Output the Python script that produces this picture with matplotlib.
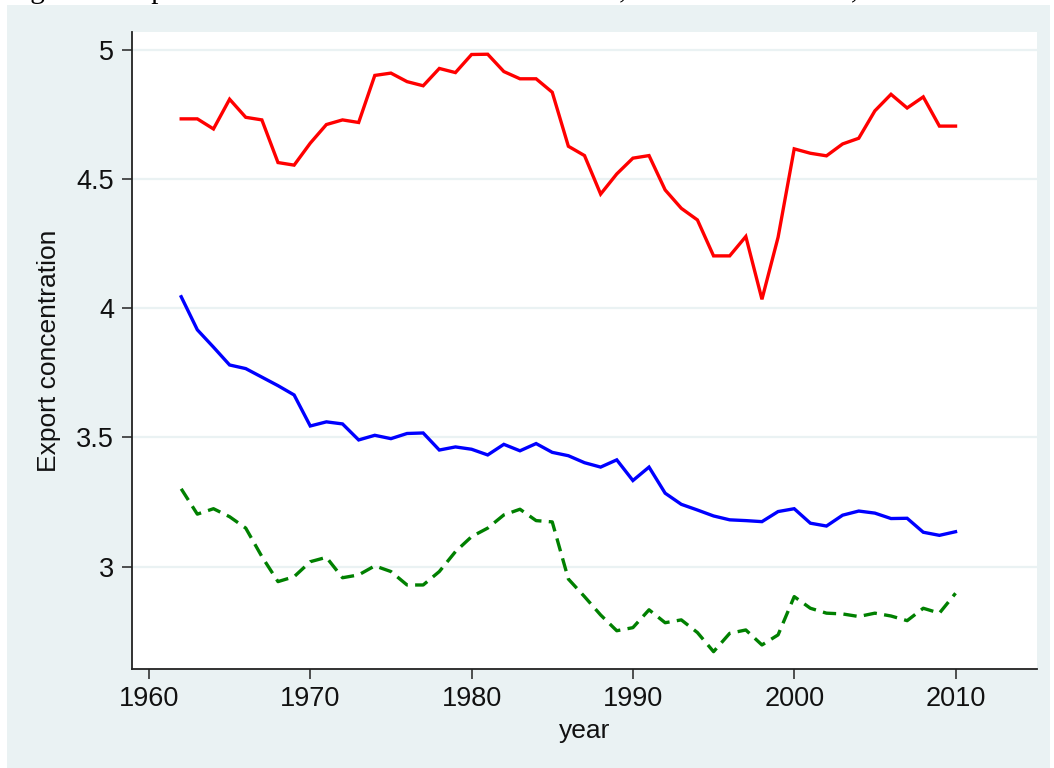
import matplotlib.pyplot as plt
from matplotlib.patches import Rectangle

# Export concentration by year, three series
years = list(range(1962, 2011))

red_series = [4.732, 4.732, 4.693, 4.808, 4.738, 4.728, 4.563, 4.553, 4.638, 4.710,
              4.728, 4.718, 4.900, 4.909, 4.876, 4.860, 4.927, 4.911, 4.981, 4.982,
              4.915, 4.887, 4.887, 4.835, 4.626, 4.590, 4.441, 4.519, 4.580, 4.590,
              4.457, 4.386, 4.341, 4.202, 4.202, 4.277, 4.034, 4.274, 4.616, 4.599,
              4.589, 4.635, 4.657, 4.763, 4.827, 4.774, 4.817, 4.704, 4.704]

blue_series = [4.044, 3.916, 3.849, 3.780, 3.766, 3.733, 3.700, 3.664, 3.544, 3.560,
               3.552, 3.490, 3.508, 3.495, 3.515, 3.517, 3.451, 3.463, 3.454, 3.432,
               3.473, 3.448, 3.476, 3.442, 3.429, 3.402, 3.385, 3.413, 3.333, 3.385,
               3.284, 3.241, 3.219, 3.196, 3.181, 3.178, 3.174, 3.213, 3.224, 3.168,
               3.157, 3.199, 3.215, 3.207, 3.186, 3.187, 3.133, 3.121, 3.135]

green_series = [3.301, 3.203, 3.224, 3.193, 3.149, 3.039, 2.942, 2.961, 3.019, 3.036,
                2.957, 2.968, 3.003, 2.981, 2.929, 2.929, 2.981, 3.058, 3.116, 3.149,
                3.200, 3.222, 3.178, 3.173, 2.952, 2.884, 2.813, 2.752, 2.764, 2.833,
                2.783, 2.794, 2.745, 2.671, 2.742, 2.755, 2.697, 2.736, 2.884, 2.839,
                2.820, 2.817, 2.807, 2.820, 2.809, 2.791, 2.839, 2.820, 2.897]

y_ticks = [3, 3.5, 4, 4.5, 5]
y_tick_labels = ["3", "3.5", "4", "4.5", "5"]
x_ticks = [1960, 1970, 1980, 1990, 2000, 2010]

caption = "Figure 3: Export concentration in three income areas, from 1962 to 2010, means"

BG = "#eaf2f3"

plt.rcParams['font.family'] = ['Liberation Sans', 'DejaVu Sans']

fig = plt.figure(figsize=(10.54, 7.68), dpi=100, facecolor="white")

# Stata-style outer panel (light blue-grey), slightly inset from the image edges
fig.patches.append(Rectangle((7 / 1054, 0), 1043 / 1054, 763 / 768,
                             transform=fig.transFigure, facecolor=BG,
                             edgecolor="none", zorder=-10))

# caption above the chart, mostly cut off by the image edge (as in the source)
fig.text(6 / 1054, 1 + 2 / 768, caption,
         family=['Liberation Serif', 'DejaVu Serif'], fontsize=21,
         va='baseline', ha='left', zorder=-5)

ax = fig.add_axes([132 / 1054, 1 - 669 / 768, (1037 - 132) / 1054, (669 - 32) / 768])
ax.set_facecolor("white")
ax.set_zorder(1)

for v in y_ticks:
    ax.axhline(v, color=BG, lw=1.6, zorder=1)

ax.plot(years, red_series, color="#ff0000", lw=2.4, zorder=3, solid_joinstyle="miter")
ax.plot(years, blue_series, color="#0000ff", lw=2.4, zorder=3, solid_joinstyle="miter")
ax.plot(years, green_series, color="#008000", lw=2.4, ls=(0, (4, 2.2)), zorder=3)

ax.set_xlim(1958.95, 2015.05)
ax.set_ylim(2.604, 5.068)

ax.set_yticks(y_ticks)
ax.set_yticklabels(y_tick_labels)
ax.set_xticks(x_ticks)

for side in ["top", "right"]:
    ax.spines[side].set_visible(False)
for side in ["left", "bottom"]:
    ax.spines[side].set_color("#222222")
    ax.spines[side].set_linewidth(1.3)

ax.tick_params(axis="both", direction="out", length=7, width=1.1, color="#222222",
               labelsize=19.5, labelcolor="#111111")
ax.tick_params(axis="y", pad=6)
ax.tick_params(axis="x", pad=5)

ax.set_ylabel("Export concentration", fontsize=19, color="#111111")
ax.set_xlabel("year", fontsize=19, color="#111111")
ax.yaxis.set_label_coords(-0.078, 0.5)
ax.xaxis.set_label_coords(0.5, -0.078)

fig.savefig("out.png", dpi=100, facecolor=fig.get_facecolor())
